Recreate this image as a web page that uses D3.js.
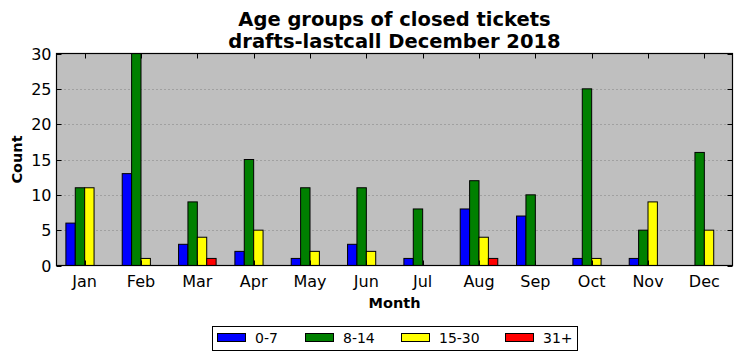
<!DOCTYPE html>
<html><head><meta charset="utf-8">
<script src="https://cdn.jsdelivr.net/npm/d3@7"></script>
<style>body{margin:0;background:#fff;}svg{display:block;font-family:"DejaVu Sans",sans-serif;}</style>
</head><body><svg id="c" width="742" height="361"></svg>
<script>
const months = ["Jan","Feb","Mar","Apr","May","Jun","Jul","Aug","Sep","Oct","Nov","Dec"];
const seriesNames = ["0-7","8-14","15-30","31+"];
const seriesColors = ["#0000ff","#008000","#ffff00","#ff0000"];
const s0_7   = [6,13,3,2,1,3,1,8,7,1,1,0];
const s8_14  = [11,30,9,15,11,11,8,12,10,25,5,16];
const s15_30 = [11,1,4,5,2,2,0,4,0,1,9,5];
const s31p   = [0,0,1,0,0,0,0,1,0,0,0,0];
const yTicks = [0,5,10,15,20,25,30];
const titleLines = ["Age groups of closed tickets","drafts-lastcall December 2018"];

const series = [s0_7,s8_14,s15_30,s31p];
const svg = d3.select("#c");
const L=56.5, R=732.5, T=53.5, B=265.5;
const x = d3.scaleBand().domain(months).range([L,R]).padding(0);
const y = d3.scaleLinear().domain([0,30]).range([B,T]);
const bw = x.step()/6;

svg.append("rect").attr("x",L).attr("y",T).attr("width",R-L).attr("height",B-T).attr("fill","#bfbfbf");
// grid
svg.append("g").selectAll("line").data(yTicks.slice(1,-1)).join("line")
  .attr("x1",L).attr("x2",R).attr("y1",d=>Math.round(y(d))+0.5).attr("y2",d=>Math.round(y(d))+0.5)
  .attr("stroke","#808080").attr("stroke-width",1).attr("stroke-dasharray","1,3");

// bars
series.forEach((vals,si)=>{
  svg.append("g").selectAll("rect").data(vals).join("rect")
    .attr("x",(d,i)=>x(months[i])+x.step()/2+(si-2)*bw)
    .attr("y",d=>y(d)).attr("width",bw).attr("height",d=>y(0)-y(d))
    .attr("fill",seriesColors[si]).attr("stroke","#000").attr("stroke-width",1);
});

// frame
svg.append("rect").attr("x",L).attr("y",T).attr("width",R-L).attr("height",B-T).attr("fill","none").attr("stroke","#000").attr("stroke-width",1.2);

// ticks inside
const tk = svg.append("g").attr("stroke","#000").attr("stroke-width",1);
months.forEach(m=>{
  const cx = Math.round(x(m)+x.step()/2)+0.5;
  tk.append("line").attr("x1",cx).attr("x2",cx).attr("y1",B).attr("y2",B-5);
  tk.append("line").attr("x1",cx).attr("x2",cx).attr("y1",T).attr("y2",T+5);
});
yTicks.forEach(v=>{
  const cy = Math.round(y(v))+0.5;
  tk.append("line").attr("x1",L).attr("x2",L+5).attr("y1",cy).attr("y2",cy);
  tk.append("line").attr("x1",R).attr("x2",R-5).attr("y1",cy).attr("y2",cy);
});

// tick labels
svg.append("g").selectAll("text").data(yTicks).join("text")
  .attr("x",L-5).attr("y",d=>y(d)+6).attr("text-anchor","end").attr("font-size",16).text(d=>d);
svg.append("g").selectAll("text").data(months).join("text")
  .attr("x",d=>x(d)+x.step()/2).attr("y",B+21).attr("text-anchor","middle").attr("font-size",16).text(d=>d);

// axis labels
svg.append("text").attr("x",(L+R)/2).attr("y",308).attr("text-anchor","middle").attr("font-size",14.5).attr("font-weight","bold").text("Month");
svg.append("text").attr("transform",`translate(21.5,${(T+B)/2}) rotate(-90)`).attr("text-anchor","middle").attr("font-size",14.5).attr("font-weight","bold").text("Count");

// title
titleLines.forEach((t,i)=>{
  svg.append("text").attr("x",(L+R)/2).attr("y",26+i*22).attr("text-anchor","middle").attr("font-size",19.5).attr("font-weight","bold").text(t);
});

// legend
const lg = svg.append("g");
lg.append("rect").attr("x",212.5).attr("y",326.5).attr("width",365).attr("height",24).attr("fill","#fff").attr("stroke","#000").attr("stroke-width",1);
const lx = [217,305,401,505];
seriesNames.forEach((n,i)=>{
  lg.append("rect").attr("x",lx[i]+0.5).attr("y",333.5).attr("width",28).attr("height",8).attr("fill",seriesColors[i]).attr("stroke","#000").attr("stroke-width",1);
  lg.append("text").attr("x",lx[i]+38).attr("y",343).attr("font-size",14).text(n);
});
</script></body></html>
